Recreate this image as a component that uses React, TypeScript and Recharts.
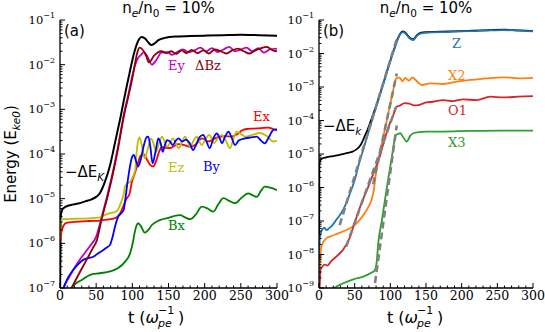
import React from 'react';
import { LineChart, Line, XAxis, YAxis } from 'recharts';

// values as log10(E / E_ke0) at times t (1/omega_pe)

// panel (a)
const blackAT = [0, 1, 3, 8, 15, 25, 35, 43, 50, 55, 59, 63, 67, 70, 73, 76, 80, 84, 88, 92, 96, 100, 104, 108, 113, 118, 122, 126, 131, 136, 145, 160, 180, 200, 225, 250, 275, 300];
const blackAE = [-7.3, -5.4, -5.25, -5.18, -5.14, -5.11, -5.06, -5.02, -4.96, -4.88, -4.75, -4.58, -4.38, -4.2, -3.98, -3.75, -3.45, -3.15, -2.82, -2.5, -2.2, -1.9, -1.65, -1.47, -1.38, -1.42, -1.5, -1.56, -1.52, -1.45, -1.4, -1.37, -1.36, -1.35, -1.34, -1.33, -1.34, -1.35];

const eyT = [0, 5, 12, 20, 28, 35, 42, 50, 57, 65, 71, 80, 89, 94, 100, 104, 108, 112, 116, 121, 127, 133, 140, 148, 155, 162, 170, 178, 186, 194, 202, 210, 218, 226, 234, 242, 250, 258, 266, 274, 282, 290, 300];
const eyE = [-7.4, -7.0, -6.78, -6.55, -6.35, -6.2, -6.05, -5.85, -5.45, -4.95, -4.55, -3.85, -3.05, -2.7, -2.25, -2.0, -1.85, -1.78, -1.72, -1.82, -2.0, -1.9, -1.73, -1.72, -1.78, -1.72, -1.66, -1.72, -1.68, -1.62, -1.7, -1.63, -1.72, -1.66, -1.6, -1.7, -1.66, -1.62, -1.7, -1.63, -1.73, -1.66, -1.64];

const dbzT = [10, 16, 25, 35, 45, 51, 57, 65, 71, 80, 89, 94, 100, 104, 107, 110, 114, 119, 123, 130, 140, 147, 154, 161, 168, 175, 182, 190, 198, 206, 214, 222, 230, 238, 246, 254, 262, 270, 278, 286, 294, 300];
const dbzE = [-7.2, -7.0, -6.72, -6.42, -6.12, -5.93, -5.5, -5.0, -4.6, -3.9, -3.1, -2.75, -2.3, -1.95, -1.72, -1.62, -1.66, -1.8, -1.95, -1.8, -1.7, -1.74, -1.7, -1.76, -1.68, -1.74, -1.67, -1.74, -1.68, -1.75, -1.66, -1.7, -1.75, -1.68, -1.64, -1.7, -1.75, -1.68, -1.63, -1.6, -1.68, -1.7];

const exT = [0, 2, 5, 9, 20, 40, 55, 65, 72, 78, 84, 88, 92, 96, 99, 103, 107, 111, 115, 120, 125, 129, 133, 137, 141, 146, 152, 158, 164, 172, 180, 188, 196, 205, 213, 221, 229, 237, 245, 252, 258, 268, 278, 288, 295, 300];
const exE = [-6.0, -5.75, -5.6, -5.54, -5.52, -5.5, -5.49, -5.47, -5.45, -5.42, -5.3, -5.15, -5.0, -4.9, -4.65, -4.45, -4.25, -4.05, -4.0, -4.12, -4.25, -4.28, -4.15, -3.95, -3.84, -3.86, -3.87, -3.82, -3.78, -3.8, -3.84, -3.78, -3.65, -3.72, -3.66, -3.61, -3.6, -3.61, -3.56, -3.47, -3.44, -3.43, -3.42, -3.41, -3.44, -3.47];

const ezT = [0, 1, 5, 20, 40, 55, 64, 70, 76, 80, 84, 88, 90, 93, 97, 101, 104, 106, 108, 110, 113, 117, 121, 126, 129, 133, 137, 141, 144, 148, 152, 156, 160, 164, 168, 173, 176, 180, 184, 189, 192, 196, 201, 206, 210, 213, 218, 223, 229, 235, 240, 244, 250, 256, 266, 276, 286, 295, 300];
const ezE = [-5.9, -5.5, -5.46, -5.45, -5.44, -5.42, -5.35, -5.32, -5.3, -5.25, -5.1, -4.9, -4.72, -4.66, -4.62, -4.5, -4.35, -3.95, -3.7, -3.63, -3.8, -4.1, -3.9, -3.65, -3.75, -3.95, -3.75, -3.61, -3.7, -3.84, -3.75, -3.65, -3.75, -3.87, -3.75, -3.61, -3.7, -3.84, -3.72, -3.61, -3.7, -3.8, -3.68, -3.57, -3.65, -3.76, -3.65, -3.57, -3.7, -3.87, -3.65, -3.5, -3.55, -3.61, -3.57, -3.53, -3.6, -3.72, -3.7];

const byT = [0, 5, 10, 18, 25, 32, 39, 46, 53, 60, 65, 69, 72, 76, 80, 85, 88, 90, 92, 95, 99, 102, 105, 108, 112, 116, 120, 122, 125, 128, 132, 136, 139, 142, 145, 148, 152, 156, 160, 164, 169, 174, 179, 184, 188, 193, 198, 202, 207, 212, 217, 220, 224, 228, 233, 237, 242, 247, 256, 264, 272, 278, 283, 288, 295, 300];
const byE = [-7.2, -7.0, -6.8, -6.6, -6.47, -6.37, -6.33, -6.3, -6.22, -6.15, -6.09, -6.04, -5.9, -5.63, -5.42, -5.32, -5.25, -5.05, -4.8, -4.45, -4.1, -4.02, -4.15, -4.28, -4.1, -3.8, -3.62, -3.61, -3.85, -4.21, -3.95, -3.65, -3.75, -3.95, -3.8, -3.69, -3.72, -3.8, -3.7, -3.65, -3.72, -3.68, -3.75, -3.91, -3.8, -3.62, -3.57, -3.7, -3.87, -3.65, -3.54, -3.62, -3.76, -3.62, -3.5, -3.62, -3.8, -3.7, -3.65, -3.63, -3.61, -3.7, -3.76, -3.65, -3.46, -3.45];

const bxT = [10, 16, 22, 30, 41, 55, 69, 80, 90, 97, 101, 104, 108, 112, 117, 122, 127, 138, 152, 160, 166, 173, 180, 188, 196, 204, 212, 219, 226, 234, 242, 251, 260, 266, 272, 278, 283, 292, 300];
const bxE = [-7.3, -7.0, -6.9, -6.82, -6.71, -6.67, -6.63, -6.56, -6.41, -6.22, -5.96, -5.7, -5.55, -5.62, -5.76, -5.7, -5.59, -5.48, -5.42, -5.38, -5.37, -5.42, -5.46, -5.35, -5.18, -5.22, -5.29, -5.12, -4.99, -5.05, -5.1, -4.98, -4.88, -4.92, -4.96, -4.82, -4.73, -4.76, -4.81];

// panel (b)
const blackBT = [0, 0.5, 3, 10, 20, 30, 40, 47, 52, 57, 61, 64, 68, 72, 80, 90, 100, 106, 110, 114, 118, 122, 127, 132, 137, 143, 150, 170, 200, 240, 260, 280, 300];
const blackBE = [-9.5, -5.3, -5.15, -5.1, -5.06, -5.02, -4.97, -4.93, -4.87, -4.77, -4.62, -4.47, -4.28, -4.05, -3.57, -2.9, -2.21, -1.83, -1.58, -1.4, -1.34, -1.4, -1.53, -1.58, -1.46, -1.38, -1.36, -1.35, -1.33, -1.3, -1.29, -1.31, -1.33];

const zT = [0, 1, 3, 6, 8, 10, 14, 17, 24, 31, 36, 43, 50, 57, 62, 70, 80, 90, 100, 106, 110, 114, 118, 122, 127, 132, 137, 143, 150, 160, 180, 200, 220, 240, 258, 280, 300];
const zE = [-9.5, -7.55, -7.32, -7.22, -7.2, -7.27, -7.22, -7.17, -6.97, -6.77, -6.57, -6.2, -5.78, -5.22, -4.87, -4.3, -3.61, -2.92, -2.23, -1.85, -1.6, -1.42, -1.36, -1.42, -1.55, -1.6, -1.48, -1.4, -1.38, -1.37, -1.36, -1.34, -1.33, -1.31, -1.3, -1.32, -1.34];

const x2T = [0, 1, 3.3, 10, 17, 27, 36, 45, 55, 64, 70, 74, 77, 80, 85, 90, 95, 100, 105, 108, 110, 113, 117, 121, 126, 131, 136, 144, 156, 174, 193, 212, 235, 258, 286, 300];
const x2E = [-9.5, -8.6, -7.77, -7.52, -7.45, -7.37, -7.29, -7.2, -7.02, -6.77, -6.55, -6.35, -6.05, -5.55, -5.02, -4.5, -4.0, -3.5, -3.0, -2.75, -2.73, -2.72, -2.83, -2.73, -2.81, -2.71, -2.8, -2.94, -2.89, -2.91, -2.84, -2.79, -2.74, -2.71, -2.74, -2.73];

const o1T = [0, 2.3, 5, 8, 12, 17, 25, 34, 43, 50, 59, 69, 78, 85, 94, 100, 104, 108, 113, 120, 127, 133, 141, 150, 160, 174, 188, 202, 221, 240, 258, 279, 300];
const o1E = [-9.5, -8.45, -8.35, -8.3, -8.33, -8.2, -8.05, -7.85, -7.5, -7.05, -6.5, -5.98, -5.48, -5.08, -4.42, -4.05, -3.85, -3.6, -3.56, -3.48, -3.5, -3.55, -3.53, -3.46, -3.44, -3.39, -3.42, -3.37, -3.39, -3.29, -3.31, -3.29, -3.27];

const x3T = [15, 22, 34, 48, 62, 72, 78.5, 81, 83, 88, 92.5, 97, 102, 105, 107, 109, 111, 114, 118, 123, 128, 132, 140, 151, 174, 212, 258, 300];
const x3E = [-9.2, -9.0, -8.86, -8.74, -8.66, -8.56, -8.46, -8.2, -7.67, -7.0, -6.37, -5.75, -5.1, -4.7, -4.45, -4.42, -4.4, -4.38, -4.5, -4.63, -4.45, -4.38, -4.35, -4.33, -4.33, -4.31, -4.3, -4.3];

// dashed growth-rate fits (start and end points)
const zFitT = [29, 110];
const zFitE = [-7.12, -1.5];
const x2FitT = [76, 109];
const x2FitE = [-5.9, -2.6];
const o1FitT = [38, 108];
const o1FitE = [-7.77, -3.6];
const x3FitT = [78.5, 109];
const x3FitE = [-8.85, -4.15];

const pts = (ts: number[], es: number[]) => ts.map((t, i) => ({ t, v: Math.pow(10, es[i]) }));

const X_TICKS = Array.from({ length: 31 }, (_, i) => i * 10);
const logTicks = (lo: number, hi: number) => {
  const out: number[] = [];
  for (let e = lo; e < hi; e++) {
    for (let m = 1; m < 10; m++) out.push(m * Math.pow(10, e));
  }
  out.push(Math.pow(10, hi));
  return out;
};

const SERIF = 'DejaVu Serif';
const SANS = 'DejaVu Sans';
const frame = { stroke: '#000', strokeWidth: 1.3 };

const isDecade = (v: number) => Math.abs(Math.log10(v) - Math.round(Math.log10(v))) < 1e-6;

const yTick = (side: 'left' | 'right') => (p: any) => {
  const v = p.payload.value;
  const major = isDecade(v);
  const len = major ? 5 : 2.5;
  const dir = side === 'left' ? 1 : -1;
  const ex = Math.round(Math.log10(v));
  return (
    <g>
      <line x1={p.x} x2={p.x + dir * len} y1={p.y} y2={p.y} stroke="#000" strokeWidth={1} />
      {side === 'left' && major && (
        <text x={p.x - 5} y={p.y + 4} textAnchor="end" fontFamily={SERIF} fontSize={11.5} fill="#000">
          10
          <tspan dy={-6} fontSize={8}>{'\u2212' + Math.abs(ex)}</tspan>
        </text>
      )}
    </g>
  );
};

const xTick = (side: 'bottom' | 'top') => (p: any) => {
  const v = p.payload.value;
  const major = v % 50 === 0;
  const len = major ? 5 : 2.5;
  const dir = side === 'bottom' ? -1 : 1;
  return (
    <g>
      <line x1={p.x} x2={p.x} y1={p.y} y2={p.y + dir * len} stroke="#000" strokeWidth={1} />
      {side === 'bottom' && major && (
        <text x={p.x} y={p.y + 12} textAnchor="middle" fontFamily={SERIF} fontSize={12.5} fill="#000">
          {v}
        </text>
      )}
    </g>
  );
};

type Series = { key: string; t: number[]; e: number[]; color: string; width?: number; dash?: boolean };

const panelA: Series[] = [
  { key: 'black', t: blackAT, e: blackAE, color: '#000000', width: 2 },
  { key: 'Ex', t: exT, e: exE, color: '#ff0000' },
  { key: 'Ey', t: eyT, e: eyE, color: '#bf00bf' },
  { key: 'Ez', t: ezT, e: ezE, color: '#bfbf00' },
  { key: 'Bx', t: bxT, e: bxE, color: '#008000' },
  { key: 'By', t: byT, e: byE, color: '#0000ff' },
  { key: 'dBz', t: dbzT, e: dbzE, color: '#8b0000' },
];

const panelB: Series[] = [
  { key: 'black', t: blackBT, e: blackBE, color: '#000000' },
  { key: 'Z', t: zT, e: zE, color: '#1f77b4' },
  { key: 'X2', t: x2T, e: x2E, color: '#ff7f0e' },
  { key: 'O1', t: o1T, e: o1E, color: '#d62728' },
  { key: 'X3', t: x3T, e: x3E, color: '#2ca02c' },
  { key: 'zfit', t: zFitT, e: zFitE, color: '#808080', dash: true },
  { key: 'x2fit', t: x2FitT, e: x2FitE, color: '#808080', dash: true },
  { key: 'o1fit', t: o1FitT, e: o1FitE, color: '#808080', dash: true },
  { key: 'x3fit', t: x3FitT, e: x3FitE, color: '#808080', dash: true },
];

const Panel = ({ series, left, width, axisW, marginRight, lo }: { series: Series[]; left: number; width: number; axisW: number; marginRight: number; lo: number }) => {
  const yTicks = logTicks(lo, -1);
  const yDomain = [Math.pow(10, lo), 0.1];
  return (
    <div style={{ position: 'absolute', left, top: 0 }}>
      <LineChart width={width} height={332} margin={{ top: 20, right: marginRight, bottom: 0, left: 0 }}>
        <XAxis xAxisId="x" type="number" dataKey="t" domain={[0, 300]} allowDataOverflow ticks={X_TICKS} interval={0} tick={xTick('bottom')} tickLine={false} tickSize={0} tickMargin={0} axisLine={frame} height={44} />
        <XAxis xAxisId="top" orientation="top" type="number" dataKey="t" domain={[0, 300]} allowDataOverflow ticks={X_TICKS} interval={0} tick={xTick('top')} tickLine={false} tickSize={0} tickMargin={0} axisLine={frame} height={0} />
        <YAxis yAxisId="y" type="number" scale="log" domain={yDomain} allowDataOverflow ticks={yTicks} interval={0} tick={yTick('left')} tickLine={false} tickSize={0} tickMargin={0} axisLine={frame} width={axisW} />
        <YAxis yAxisId="r" orientation="right" type="number" scale="log" domain={yDomain} allowDataOverflow ticks={yTicks} interval={0} tick={yTick('right')} tickLine={false} tickSize={0} tickMargin={0} axisLine={frame} width={0} />
        {series.map((s) => (
          <Line
            key={s.key}
            xAxisId="x"
            yAxisId="y"
            data={pts(s.t, s.e)}
            dataKey="v"
            type={s.dash ? 'linear' : 'monotone'}
            stroke={s.color}
            strokeWidth={s.dash ? 2.6 : s.width ?? 1.8}
            strokeDasharray={s.dash ? '7 4' : undefined}
            dot={false}
            activeDot={false}
            isAnimationActive={false}
          />
        ))}
      </LineChart>
    </div>
  );
};

const Sub = ({ children, italic }: { children: React.ReactNode; italic?: boolean }) => (
  <tspan fontSize={10.5} dy={4} fontStyle={italic ? 'italic' : undefined}>
    {children}
  </tspan>
);

const Texts = () => (
  <svg width={545} height={332} style={{ position: 'absolute', left: 0, top: 0, pointerEvents: 'none' }}>
    {[168.5, 426].map((cx) => (
      <text key={cx} x={cx} y={13} textAnchor="middle" fontFamily={SANS} fontSize={15} fill="#000">
        n<Sub italic>e</Sub>
        <tspan dy={-4}>/n</tspan>
        <Sub>0</Sub>
        <tspan dy={-4}> = 10%</tspan>
      </text>
    ))}
    <text transform="translate(16,154) rotate(-90)" textAnchor="middle" fontFamily={SANS} fontSize={15} fill="#000">
      Energy (E<Sub italic>ke0</Sub>
      <tspan dy={-4}>)</tspan>
    </text>
    {[128, 387].map((x0) => (
      <g key={x0} fontFamily={SANS} fill="#000">
        <text x={x0} y={323} fontSize={16}>
          t (<tspan fontStyle="italic">ω</tspan>
        </text>
        <text x={x0 + 30} y={327} fontSize={11} fontStyle="italic">pe</text>
        <text x={x0 + 30} y={314} fontSize={11}>−1</text>
        <text x={x0 + 50} y={323} fontSize={16}>)</text>
      </g>
    ))}
    <text x={64} y={36} fontFamily={SANS} fontSize={15} fill="#000">(a)</text>
    <text x={323} y={36} fontFamily={SANS} fontSize={15} fill="#000">(b)</text>
    <g fontFamily={SERIF} fontSize={13}>
      <text x={168} y={70} fill="#bf00bf">Ey</text>
      <text x={195} y={70} fill="#8b0000">ΔBz</text>
      <text x={253} y={121} fill="#ff0000">Ex</text>
      <text x={168} y={172} fill="#bfbf00">Ez</text>
      <text x={203} y={171} fill="#0000ff">By</text>
      <text x={168} y={230} fill="#008000">Bx</text>
      <text x={452} y={48} fill="#1f77b4">Z</text>
      <text x={448} y={80} fill="#ff7f0e">X2</text>
      <text x={448} y={115} fill="#d62728">O1</text>
      <text x={448} y={147} fill="#2ca02c">X3</text>
    </g>
    <text x={65} y={177} fontFamily={SANS} fontSize={15} fill="#000">
      −ΔE<Sub italic>K</Sub>
    </text>
    <text x={323} y={131} fontFamily={SANS} fontSize={15} fill="#000">
      −ΔE<Sub italic>k</Sub>
    </text>
  </svg>
);

export default function App() {
  return (
    <div style={{ position: 'absolute', left: 0, top: 0, width: 545, height: 332, background: '#fff' }}>
      <Panel series={panelA} left={0} width={300} axisW={60} marginRight={23} lo={-7} />
      <Panel series={panelB} left={280} width={265} axisW={39} marginRight={12} lo={-9} />
      <Texts />
    </div>
  );
}
